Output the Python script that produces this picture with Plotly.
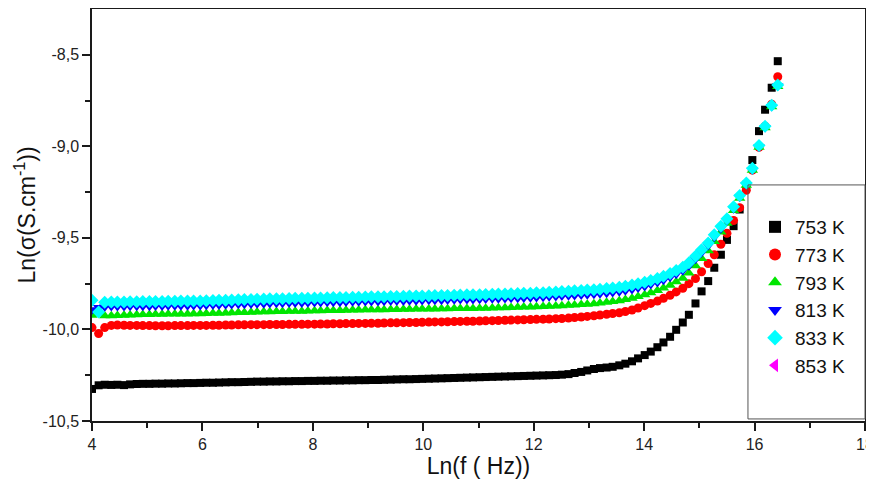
import plotly.graph_objects as go

# Ln(f) values (shared by all series)
ln_f = [4.00, 4.12, 4.23, 4.35, 4.46, 4.58, 4.69, 4.81, 4.92, 5.04,
        5.15, 5.27, 5.38, 5.50, 5.61, 5.73, 5.84, 5.96, 6.07, 6.19,
        6.30, 6.42, 6.53, 6.65, 6.76, 6.88, 6.99, 7.11, 7.22, 7.34,
        7.45, 7.57, 7.68, 7.80, 7.91, 8.03, 8.14, 8.26, 8.37, 8.49,
        8.60, 8.72, 8.83, 8.95, 9.06, 9.18, 9.29, 9.41, 9.52, 9.64,
        9.75, 9.87, 9.98, 10.10, 10.21, 10.33, 10.44, 10.56, 10.67, 10.79,
        10.90, 11.02, 11.13, 11.25, 11.36, 11.48, 11.59, 11.71, 11.82, 11.94,
        12.05, 12.17, 12.28, 12.40, 12.51, 12.63, 12.74, 12.86, 12.97, 13.09,
        13.20, 13.32, 13.43, 13.55, 13.66, 13.78, 13.89, 14.01, 14.12, 14.24,
        14.35, 14.47, 14.58, 14.70, 14.81, 14.93, 15.04, 15.16, 15.27, 15.39,
        15.50, 15.62, 15.73, 15.85, 15.96, 16.08, 16.19, 16.31, 16.42]

sigma_753 = [-10.325, -10.305, -10.302, -10.303, -10.302, -10.304, -10.300, -10.298, -10.297, -10.297,
             -10.296, -10.296, -10.295, -10.295, -10.294, -10.293, -10.293, -10.292, -10.291, -10.291,
             -10.290, -10.289, -10.288, -10.288, -10.287, -10.286, -10.285, -10.285, -10.284, -10.284,
             -10.283, -10.283, -10.282, -10.282, -10.281, -10.281, -10.280, -10.280, -10.279, -10.279,
             -10.278, -10.278, -10.277, -10.277, -10.276, -10.276, -10.275, -10.274, -10.273, -10.272,
             -10.272, -10.271, -10.270, -10.269, -10.268, -10.267, -10.266, -10.265, -10.264, -10.263,
             -10.262, -10.261, -10.260, -10.259, -10.258, -10.257, -10.256, -10.255, -10.254, -10.253,
             -10.252, -10.251, -10.250, -10.249, -10.247, -10.244, -10.238, -10.232, -10.224, -10.216,
             -10.211, -10.208, -10.204, -10.196, -10.187, -10.174, -10.158, -10.140, -10.121, -10.097,
             -10.071, -10.040, -10.002, -9.962, -9.920, -9.858, -9.792, -9.736, -9.663, -9.592,
             -9.511, -9.436, -9.345, -9.210, -9.075, -8.917, -8.800, -8.680, -8.535]

sigma_773 = [-9.990, -10.022, -9.990, -9.978, -9.976, -9.977, -9.978, -9.978, -9.979, -9.979,
             -9.980, -9.980, -9.980, -9.979, -9.979, -9.979, -9.978, -9.978, -9.978, -9.977,
             -9.977, -9.976, -9.976, -9.975, -9.975, -9.974, -9.974, -9.974, -9.973, -9.973,
             -9.973, -9.972, -9.972, -9.972, -9.971, -9.971, -9.970, -9.970, -9.969, -9.969,
             -9.968, -9.968, -9.967, -9.967, -9.966, -9.966, -9.965, -9.964, -9.964, -9.963,
             -9.962, -9.962, -9.961, -9.960, -9.959, -9.959, -9.958, -9.957, -9.956, -9.955,
             -9.955, -9.954, -9.953, -9.952, -9.951, -9.950, -9.949, -9.948, -9.947, -9.946,
             -9.945, -9.944, -9.943, -9.941, -9.940, -9.938, -9.935, -9.932, -9.929, -9.925,
             -9.921, -9.917, -9.913, -9.909, -9.902, -9.894, -9.883, -9.870, -9.858, -9.845,
             -9.830, -9.813, -9.795, -9.775, -9.750, -9.722, -9.685, -9.640, -9.592, -9.535,
             -9.475, -9.405, -9.335, -9.240, -9.130, -9.005, -8.890, -8.770, -8.620]

sigma_793 = [-9.922, -9.912, -9.925, -9.925, -9.924, -9.923, -9.921, -9.920, -9.919, -9.918,
             -9.917, -9.917, -9.916, -9.916, -9.915, -9.915, -9.914, -9.914, -9.913, -9.912,
             -9.911, -9.910, -9.909, -9.908, -9.907, -9.906, -9.905, -9.904, -9.903, -9.902,
             -9.902, -9.901, -9.900, -9.900, -9.899, -9.898, -9.898, -9.897, -9.896, -9.896,
             -9.895, -9.894, -9.894, -9.893, -9.893, -9.892, -9.892, -9.891, -9.891, -9.890,
             -9.890, -9.889, -9.889, -9.888, -9.888, -9.887, -9.887, -9.886, -9.886, -9.885,
             -9.885, -9.884, -9.884, -9.883, -9.882, -9.881, -9.880, -9.879, -9.878, -9.877,
             -9.876, -9.875, -9.874, -9.872, -9.870, -9.868, -9.866, -9.864, -9.862, -9.859,
             -9.856, -9.852, -9.848, -9.843, -9.837, -9.829, -9.820, -9.810, -9.799, -9.787,
             -9.774, -9.758, -9.740, -9.720, -9.692, -9.652, -9.612, -9.570, -9.520, -9.468,
             -9.420, -9.350, -9.284, -9.213, -9.131, -9.005, -8.899, -8.784, -8.673]

sigma_813 = [-9.893, -9.880, -9.877, -9.875, -9.875, -9.875, -9.874, -9.874, -9.873, -9.873,
             -9.872, -9.872, -9.871, -9.871, -9.870, -9.870, -9.869, -9.869, -9.868, -9.867,
             -9.866, -9.865, -9.864, -9.863, -9.862, -9.861, -9.860, -9.859, -9.858, -9.857,
             -9.857, -9.856, -9.855, -9.855, -9.854, -9.853, -9.853, -9.852, -9.851, -9.851,
             -9.850, -9.849, -9.849, -9.848, -9.847, -9.847, -9.846, -9.845, -9.845, -9.844,
             -9.843, -9.843, -9.842, -9.841, -9.840, -9.840, -9.839, -9.838, -9.837, -9.836,
             -9.836, -9.835, -9.834, -9.833, -9.832, -9.831, -9.830, -9.829, -9.828, -9.827,
             -9.825, -9.824, -9.822, -9.820, -9.818, -9.816, -9.814, -9.812, -9.810, -9.808,
             -9.805, -9.802, -9.798, -9.794, -9.789, -9.782, -9.774, -9.765, -9.755, -9.744,
             -9.731, -9.715, -9.698, -9.679, -9.654, -9.617, -9.581, -9.543, -9.497, -9.450,
             -9.407, -9.341, -9.278, -9.209, -9.128, -9.003, -8.897, -8.782, -8.671]

sigma_833 = [-9.840, -9.905, -9.852, -9.850, -9.850, -9.850, -9.849, -9.849, -9.848, -9.848,
             -9.847, -9.847, -9.846, -9.846, -9.845, -9.845, -9.844, -9.844, -9.843, -9.842,
             -9.841, -9.840, -9.839, -9.838, -9.837, -9.836, -9.835, -9.834, -9.833, -9.832,
             -9.832, -9.831, -9.830, -9.830, -9.829, -9.828, -9.828, -9.827, -9.826, -9.826,
             -9.825, -9.824, -9.824, -9.823, -9.822, -9.822, -9.821, -9.820, -9.820, -9.819,
             -9.818, -9.818, -9.817, -9.816, -9.815, -9.815, -9.814, -9.813, -9.812, -9.811,
             -9.811, -9.810, -9.809, -9.808, -9.807, -9.806, -9.805, -9.804, -9.803, -9.802,
             -9.800, -9.799, -9.797, -9.795, -9.793, -9.791, -9.789, -9.787, -9.785, -9.783,
             -9.780, -9.777, -9.773, -9.769, -9.764, -9.757, -9.750, -9.742, -9.733, -9.722,
             -9.710, -9.695, -9.678, -9.660, -9.636, -9.600, -9.565, -9.528, -9.483, -9.437,
             -9.395, -9.330, -9.268, -9.200, -9.120, -8.995, -8.890, -8.775, -8.665]

sigma_853 = []  # only present in the legend

series_names = ["753 K", "773 K", "793 K", "813 K", "833 K", "853 K"]
series_values = [sigma_753, sigma_773, sigma_793, sigma_813, sigma_833, sigma_853]
series_colors = ["#000000", "#FF0000", "#00E600", "#0000FF", "#00FFFF", "#FF00FF"]
series_symbols = ["square", "circle", "triangle-up", "triangle-down", "diamond", "triangle-left"]
series_sizes = [8, 9, 10, 10, 10, 10]

x_tick_vals = [4, 6, 8, 10, 12, 14, 16, 18]
x_minor_vals = [5, 7, 9, 11, 13, 15, 17]
y_tick_vals = [-10.5, -10.0, -9.5, -9.0, -8.5]
y_tick_text = ["-10,5", "-10,0", "-9,5", "-9,0", "-8,5"]
y_minor_vals = [-10.25, -9.75, -9.25, -8.75]

FONT = "Liberation Sans, Arial, sans-serif"

fig = go.Figure()
for name, vals, col, sym, sz in zip(series_names, series_values, series_colors,
                                    series_symbols, series_sizes):
    xs = ln_f[:len(vals)] if vals else [None]
    ys = vals if vals else [None]
    fig.add_trace(go.Scatter(
        x=xs, y=ys, mode="markers", name=name,
        marker=dict(symbol=sym, color=col, size=sz, line=dict(width=0)),
    ))

axis_common = dict(
    showline=True, linecolor="#1a1a1a", linewidth=1.5, mirror=True,
    ticks="outside", ticklen=8, tickwidth=1.5, tickcolor="#1a1a1a",
    showgrid=False, zeroline=False, automargin=False,
    tickfont=dict(family=FONT, size=16, color="#222"),
)

# the page body adds an 8 px offset, so the figure is sized to fit the window
fig.update_layout(
    width=866, height=484,
    margin=dict(l=84, r=9, t=1, b=71),
    plot_bgcolor="white", paper_bgcolor="white",
    font=dict(family=FONT, color="#111"),
    xaxis=dict(
        range=[4, 18], tickvals=x_tick_vals,
        minor=dict(tickvals=x_minor_vals, ticks="outside", ticklen=5,
                   tickwidth=1.5, tickcolor="#1a1a1a", showgrid=False),
        title=dict(text="Ln(f ( Hz))", font=dict(family=FONT, size=23), standoff=6),
        **axis_common,
    ),
    yaxis=dict(
        range=[-10.5, -8.25], tickvals=y_tick_vals, ticktext=y_tick_text,
        minor=dict(tickvals=y_minor_vals, ticks="outside", ticklen=5,
                   tickwidth=1.5, tickcolor="#1a1a1a", showgrid=False),
        title=dict(text="Ln(σ(S.cm<sup>-1</sup>))", font=dict(family=FONT, size=23), standoff=1),
        **axis_common,
    ),
    legend=dict(
        x=0.8577, y=0.517, xanchor="left", yanchor="top",
        bgcolor="rgba(0,0,0,0)", borderwidth=0,
        font=dict(family=FONT, size=19, color="#111"),
        itemsizing="constant",
    ),
    shapes=[dict(type="rect", xref="paper", yref="paper",
                 x0=0.8486, x1=1.0, y0=0.005, y1=0.573,
                 line=dict(color="#555", width=1), fillcolor="rgba(0,0,0,0)")],
    showlegend=True,
)

fig.write_html("out.html")
